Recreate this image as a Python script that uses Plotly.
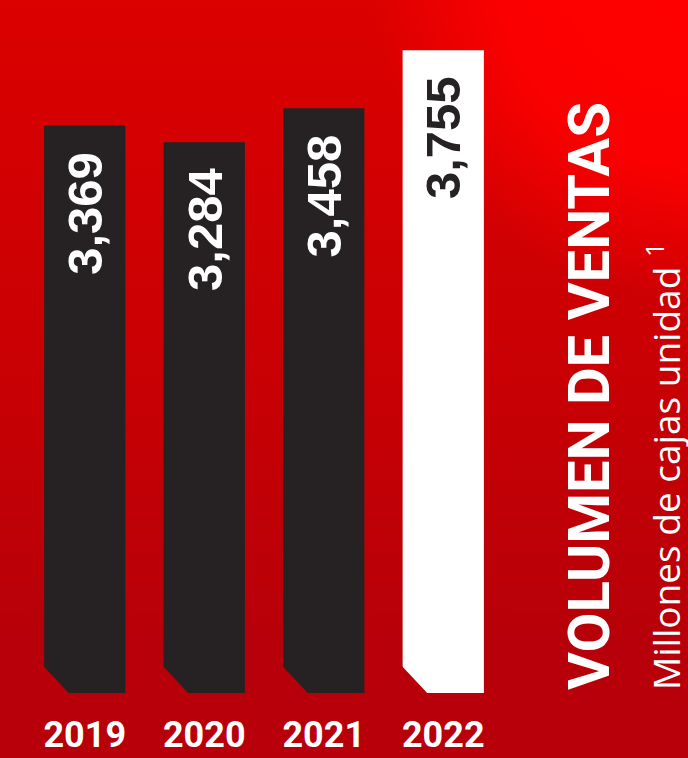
import base64
import plotly.graph_objects as go

# data
years = ["2019", "2020", "2021", "2022"]
volumes = [3369, 3284, 3458, 3755]
bar_colors = ["#262223", "#262223", "#262223", "#ffffff"]
label_colors = ["#ffffff", "#ffffff", "#ffffff", "#262223"]
title_text = "VOLUMEN DE VENTAS"
subtitle_text = "Millones de cajas unidad <sup>1</sup>"

W, H = 688, 758
ML, MR, MT, MB = 25, 185, 0, 65
PW, PH = W - ML - MR, H - MT - MB
Y_RANGE = [459, 4013]

CONDENSED = "Roboto, Liberation Sans, sans-serif"


def px_x(x):
    return (x - ML) / PW


def px_y(y):
    return (H - MB - y) / PH


# red gradient backdrop as an svg image
svg = f"""<svg xmlns='http://www.w3.org/2000/svg' width='{W}' height='{H}'>
<defs>
<linearGradient id='g' x1='0' y1='0' x2='0' y2='1'>
<stop offset='0' stop-color='#dc0000'/>
<stop offset='0.5' stop-color='#c80004'/>
<stop offset='0.85' stop-color='#b7000a'/>
<stop offset='1' stop-color='#b7000a'/>
</linearGradient>
<radialGradient id='r' cx='700' cy='-30' r='330' gradientUnits='userSpaceOnUse'>
<stop offset='0' stop-color='#ff0000'/>
<stop offset='0.6' stop-color='#ff0000' stop-opacity='0.9'/>
<stop offset='1' stop-color='#ff0000' stop-opacity='0'/>
</radialGradient>
</defs>
<rect width='{W}' height='{H}' fill='url(#g)'/>
<rect width='{W}' height='{H}' fill='url(#r)'/>
</svg>"""
bg_src = "data:image/svg+xml;base64," + base64.b64encode(svg.encode()).decode()

idx = list(range(len(years)))

fig = go.Figure(go.Bar(
    x=idx,
    y=volumes,
    width=0.68,
    marker=dict(color=bar_colors, line=dict(width=0)),
    customdata=years,
    hovertemplate="%{customdata}: %{y:,}<extra></extra>",
))

# value labels, rotated, near the top of each bar
for i, v, c in zip(idx, volumes, label_colors):
    fig.add_annotation(
        x=i, y=v, text=f"{v:,}", textangle=-90, showarrow=False,
        xanchor="center", yanchor="top", yshift=-24,
        font=dict(family="Liberation Sans, Arial, sans-serif", size=49, color=c, weight="bold"),
    )

# cut bottom-left corner of each bar
cut = 26
half = 0.34
for i in idx:
    x0 = i - half - 0.01
    x1 = i - half + cut / (PW / len(years))
    fig.add_shape(
        type="path", xref="x", yref="paper",
        path=f"M {x0} -0.002 L {x1} -0.002 L {x0} {cut / PH + 0.002} Z",
        fillcolor="#b7000a", line=dict(width=0), layer="above",
    )

# vertical title and subtitle
fig.add_annotation(
    xref="paper", yref="paper", x=px_x(589), y=px_y(692),
    text=title_text, textangle=-90, showarrow=False,
    xanchor="center", yanchor="bottom",
    font=dict(family=CONDENSED, size=58, color="#ffffff", weight="bold"),
)
fig.add_annotation(
    xref="paper", yref="paper", x=px_x(663), y=px_y(692),
    text=subtitle_text, textangle=-90, showarrow=False,
    xanchor="center", yanchor="bottom",
    font=dict(family="Open Sans, sans-serif", size=37, color="#ffffff"),
)

fig.add_layout_image(
    source=bg_src, xref="paper", yref="paper",
    x=-ML / PW, y=1 + MT / PH, sizex=W / PW, sizey=H / PH,
    xanchor="left", yanchor="top", sizing="stretch", layer="below",
)

fig.update_layout(
    width=W, height=H,
    margin=dict(l=ML, r=MR, t=MT, b=MB),
    paper_bgcolor="#c60004",
    plot_bgcolor="rgba(0,0,0,0)",
    showlegend=False,
    xaxis=dict(
        range=[-0.5, len(years) - 0.5],
        tickvals=idx, ticktext=years,
        showgrid=False, zeroline=False, showline=False, ticks="",
        tickfont=dict(family=CONDENSED, size=36, color="#ffffff", weight="bold"),
        ticklabelstandoff=17,
        fixedrange=True,
    ),
    yaxis=dict(range=Y_RANGE, visible=False, fixedrange=True),
)

fig.write_html(
    "out.html",
    config={"displayModeBar": False},
    post_script="document.body.style.margin='0';",
)
